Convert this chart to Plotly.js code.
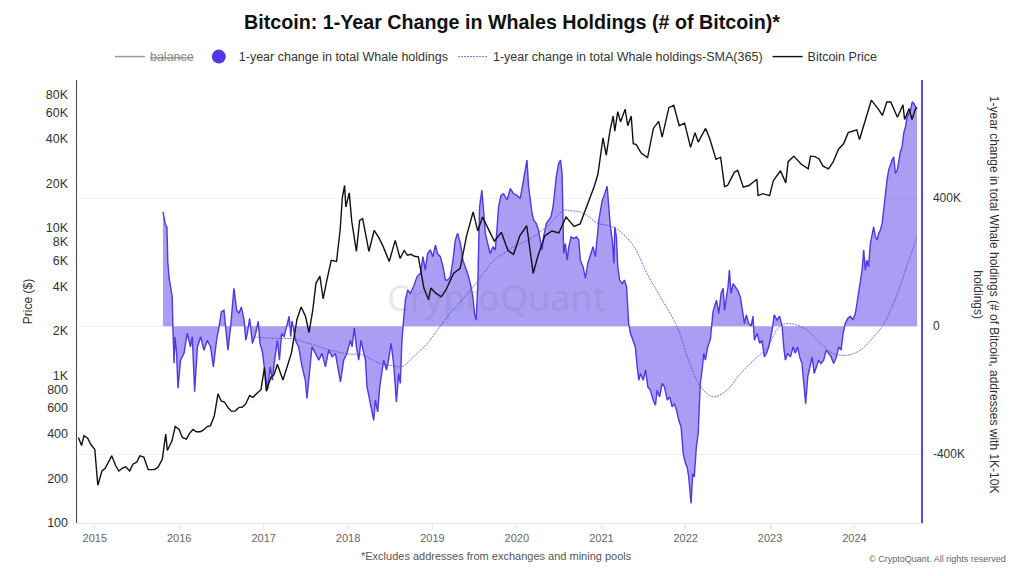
<!DOCTYPE html>
<html>
<head>
<meta charset="utf-8">
<script src="https://cdn.plot.ly/plotly-3.0.1.min.js"></script>
<style>
html,body{margin:0;padding:0;background:#fff;}
#chart{width:1024px;height:576px;}
</style>
</head>
<body>
<div id="chart"></div>
<script>
// ---------- DATA ----------
// Bitcoin price (USD)
const priceDates = [
  '2014-10-22','2014-11-05','2014-11-15','2014-12-01','2014-12-15',
  '2015-01-01','2015-01-14','2015-02-01','2015-02-15','2015-03-01','2015-03-15','2015-04-01','2015-04-15','2015-05-01','2015-05-15','2015-06-01','2015-06-15','2015-07-01','2015-07-15','2015-08-01','2015-08-20','2015-09-01','2015-09-15','2015-10-01','2015-10-20','2015-11-04','2015-11-11','2015-12-01','2015-12-15',
  '2016-01-01','2016-01-15','2016-02-01','2016-02-15','2016-03-01','2016-03-15','2016-04-01','2016-04-15','2016-05-01','2016-05-15','2016-06-01','2016-06-17','2016-07-01','2016-07-15','2016-08-01','2016-08-15','2016-09-01','2016-09-15','2016-10-01','2016-10-15','2016-11-01','2016-11-15','2016-12-01','2016-12-20',
  '2017-01-04','2017-01-12','2017-02-01','2017-02-15','2017-03-01','2017-03-25','2017-04-15','2017-05-01','2017-05-25','2017-06-12','2017-07-01','2017-07-16','2017-08-01','2017-08-15','2017-09-01','2017-09-15','2017-10-01','2017-10-20','2017-11-12','2017-11-28','2017-12-07','2017-12-17','2017-12-22',
  '2018-01-06','2018-01-17','2018-02-06','2018-02-20','2018-03-05','2018-04-01','2018-04-24','2018-05-15','2018-06-01','2018-06-28','2018-07-24','2018-08-14','2018-09-01','2018-09-15','2018-10-01','2018-10-15','2018-11-01','2018-11-25','2018-12-15','2018-12-25',
  '2019-01-15','2019-02-08','2019-03-01','2019-04-02','2019-05-01','2019-05-28','2019-06-26','2019-07-16','2019-08-06','2019-09-01','2019-09-26','2019-10-26','2019-11-24','2019-12-18',
  '2020-01-14','2020-02-13','2020-03-12','2020-04-01','2020-05-01','2020-06-01','2020-07-01','2020-08-01','2020-09-05','2020-10-01','2020-10-21','2020-11-15','2020-12-01','2020-12-17',
  '2021-01-08','2021-01-22','2021-02-08','2021-02-21','2021-02-28','2021-03-13','2021-03-25','2021-04-14','2021-04-25','2021-05-10','2021-05-19','2021-06-01','2021-06-22','2021-07-20','2021-08-14','2021-09-06','2021-09-21','2021-10-20','2021-11-10','2021-12-04','2021-12-27',
  '2022-01-22','2022-02-10','2022-02-24','2022-03-28','2022-04-15','2022-05-12','2022-06-01','2022-06-18','2022-07-01','2022-07-30','2022-08-14','2022-09-07','2022-10-01','2022-11-05','2022-11-10','2022-12-01','2022-12-30',
  '2023-01-15','2023-02-15','2023-03-10','2023-03-20','2023-04-14','2023-05-15','2023-06-15','2023-06-25','2023-07-14','2023-08-01','2023-08-18','2023-09-11','2023-10-01','2023-10-24','2023-11-15','2023-12-05',
  '2024-01-11','2024-01-23','2024-02-15','2024-03-05','2024-03-14','2024-04-15','2024-05-01','2024-05-20','2024-06-06','2024-07-05','2024-07-29','2024-08-05','2024-08-25','2024-09-06','2024-09-20','2024-09-27'
];
const priceValues = [
  380,335,390,375,340,
  315,180,225,235,260,285,245,225,235,240,225,250,258,285,280,230,230,230,238,270,400,310,360,450,
  430,380,370,405,430,415,415,425,450,455,530,750,670,660,600,570,575,605,610,640,730,710,750,800,
  1130,780,970,1010,1190,930,1180,1420,2400,2900,2500,1950,2750,4200,4700,3300,4400,6000,5900,9800,16000,19300,13800,
  17200,11000,6900,11200,11500,6900,9600,8500,7500,5900,8200,6200,7000,6500,6600,6400,6350,3900,3250,3900,
  3600,3400,3800,4900,5300,8700,12800,9500,11800,9700,8100,9300,7000,6600,
  8800,10300,4900,6400,8800,9500,9200,11800,10200,10600,12800,16000,19000,23000,
  40500,31000,46000,57000,45000,61000,52000,63500,49000,57000,37000,36500,32000,29800,47000,52500,41000,65000,67500,49000,51000,
  35000,44000,38000,47000,40000,29000,30000,19000,19300,23700,24500,18800,19300,21300,16500,17000,16500,
  20800,24300,20100,28000,30500,27000,25000,30500,30300,29200,26100,25000,27900,34000,37000,44000,
  46000,39500,52000,67000,73000,63000,57500,71000,71000,56000,68000,54000,64000,54000,63000,65500
];

// 1-year change in total Whale holdings (thousand BTC), time as decimal year
const whaleYears = [
  2015.809,2015.840,2015.855,2015.868,2015.880,2015.899,2015.919,2015.928,2015.940,2015.951,2015.970,2015.987,
  2016.018,2016.058,2016.097,2016.136,2016.156,2016.184,2016.216,2016.255,2016.295,2016.334,2016.373,2016.405,2016.444,2016.473,2016.500,2016.532,2016.551,2016.579,2016.610,2016.630,2016.650,2016.681,2016.710,2016.737,2016.769,2016.788,2016.808,2016.835,2016.867,2016.906,2016.935,2016.958,2016.986,
  2017.013,2017.045,2017.077,2017.104,2017.131,2017.164,2017.187,2017.211,2017.243,2017.274,2017.302,2017.321,2017.335,2017.350,2017.377,2017.416,2017.456,2017.495,2017.515,2017.546,2017.575,2017.614,2017.653,2017.693,2017.732,2017.771,2017.812,2017.851,2017.890,2017.910,2017.949,2017.989,
  2018.028,2018.049,2018.076,2018.100,2018.127,2018.155,2018.179,2018.206,2018.226,2018.257,2018.286,2018.305,2018.325,2018.352,2018.376,2018.404,2018.423,2018.455,2018.482,2018.511,2018.541,2018.573,2018.601,2018.621,2018.641,2018.660,2018.680,2018.707,2018.739,2018.778,2018.819,2018.858,2018.890,2018.917,2018.944,2018.976,
  2019.008,2019.036,2019.063,2019.095,2019.127,2019.154,2019.181,2019.213,2019.245,2019.273,2019.300,2019.332,2019.364,2019.391,2019.418,2019.450,2019.482,2019.501,2019.518,2019.537,2019.549,2019.560,2019.589,2019.608,2019.628,2019.655,2019.687,2019.719,2019.746,2019.767,2019.786,2019.814,2019.845,2019.885,2019.924,2019.963,
  2020.004,2020.043,2020.063,2020.082,2020.102,2020.122,2020.141,2020.161,2020.181,2020.200,2020.232,2020.259,2020.280,2020.300,2020.319,2020.351,2020.378,2020.406,2020.430,2020.449,2020.469,2020.496,2020.517,2020.537,2020.548,2020.556,2020.576,2020.596,2020.615,2020.643,2020.674,2020.706,2020.733,2020.754,2020.786,2020.813,2020.840,2020.872,2020.904,2020.931,2020.951,2020.970,2020.991,
  2021.011,2021.030,2021.050,2021.070,2021.089,2021.109,2021.129,2021.148,2021.160,2021.180,2021.196,2021.219,2021.248,2021.275,2021.299,2021.326,2021.346,2021.378,2021.405,2021.425,2021.444,2021.464,2021.496,2021.524,2021.551,2021.583,2021.615,2021.642,2021.662,2021.693,2021.722,2021.749,2021.781,2021.812,2021.840,2021.867,2021.891,2021.918,2021.947,2021.970,2021.998,
  2022.018,2022.037,2022.065,2022.084,2022.104,2022.128,2022.148,2022.164,2022.175,2022.196,2022.214,2022.235,2022.262,2022.294,2022.326,2022.365,2022.392,2022.421,2022.444,2022.463,2022.483,2022.504,2022.519,2022.539,2022.563,2022.590,2022.617,2022.649,2022.669,2022.697,2022.720,2022.748,2022.776,2022.800,2022.815,2022.847,2022.878,2022.906,2022.934,2022.957,2022.985,
  2023.005,2023.025,2023.052,2023.084,2023.115,2023.143,2023.162,2023.182,2023.210,2023.242,2023.274,2023.301,2023.328,2023.352,2023.380,2023.399,2023.423,2023.447,2023.470,2023.499,2023.526,2023.550,2023.577,2023.605,2023.636,2023.668,2023.695,2023.724,2023.755,2023.787,2023.814,2023.842,2023.866,2023.893,2023.921,2023.953,2023.984,
  2024.012,2024.032,2024.051,2024.071,2024.091,2024.110,2024.130,2024.150,2024.169,2024.190,2024.210,2024.229,2024.249,2024.269,2024.288,2024.308,2024.328,2024.347,2024.367,2024.387,2024.406,2024.427,2024.447,2024.466,2024.486,2024.506,2024.525,2024.545,2024.565,2024.584,2024.604,2024.624,2024.643,2024.664,2024.684,2024.703,2024.723,2024.743
];
const whaleK = [
  357,316,310,200,154,123,92,-2,-116,-33,-85,-194,
  -106,-85,-22,-65,-33,-205,-65,-33,-75,-44,-65,-127,-44,0,45,50,0,-75,0,50,118,50,40,60,20,-44,-23,24,-54,-23,15,-54,-80,
  -137,-200,-127,-169,-106,-44,-106,-23,-33,0,31,-33,16,0,-44,-65,-127,-169,-226,-137,-65,-85,-106,-85,-127,-75,-96,-85,-137,-174,-106,-85,
  -44,-65,-6,-65,-106,-44,-75,-106,-190,-231,-262,-294,-231,-268,-190,-148,-106,-137,-106,-54,-117,-237,-148,-179,-44,19,81,113,102,123,154,165,217,175,227,238,
  217,253,227,217,185,144,144,154,206,269,290,258,206,185,165,133,92,40,19,123,290,373,425,352,290,258,227,248,238,300,373,409,414,394,430,414,
  409,399,435,456,487,519,435,394,352,331,321,300,269,238,279,321,331,342,373,425,467,508,519,477,373,227,258,206,248,279,274,279,269,206,185,149,196,227,248,217,279,331,362,
  394,404,425,437,373,310,269,196,310,279,185,144,133,144,123,8,-23,-44,-65,-127,-169,-148,-169,-137,-190,-200,-231,-247,-200,-221,-179,-190,-231,-221,-252,-242,-262,-294,-315,-398,-429,
  -440,-471,-554,-461,-471,-377,-335,-262,-179,-137,-85,-106,-65,-40,45,81,40,102,118,50,92,123,175,102,133,123,112,92,50,8,35,8,0,31,-44,-23,-54,-44,-96,-85,-65,
  -44,-12,35,19,31,0,-65,-106,-85,-96,-65,-85,-65,-96,-117,-169,-242,-158,-127,-96,-148,-127,-106,-117,-106,-75,-85,-96,-117,-96,-65,-75,-23,8,24,31,20,
  40,71,102,144,175,238,175,206,185,258,290,310,279,269,290,300,321,373,414,456,487,508,519,529,477,487,519,545,560,602,623,654,664,675,701,696,685,680
];

// SMA(365) of the 1-year change (thousand BTC)
const smaYears = [
  2016.85,2017.10,2017.35,2017.55,2017.71,2017.90,2018.03,2018.15,2018.38,2018.55,2018.64,2018.80,2018.94,
  2019.08,2019.21,2019.35,2019.49,2019.61,2019.73,2019.85,2019.96,2020.08,2020.20,2020.30,2020.40,2020.48,
  2020.56,2020.65,2020.75,2020.85,2020.95,2021.07,2021.15,2021.23,2021.39,2021.54,2021.70,2021.90,2022.02,
  2022.18,2022.33,2022.49,2022.65,2022.81,2022.97,2023.08,2023.16,2023.28,2023.44,2023.60,2023.75,2023.91,
  2024.07,2024.23,2024.35,2024.51,2024.62,2024.74
];
const smaK = [
  -33,-38,-40,-55,-69,-82,-88,-88,-117,-124,-127,-90,-54,
  -5,40,82,123,165,206,228,248,262,279,300,321,345,
  362,360,357,342,322,315,308,295,248,165,92,-2,-96,
  -190,-221,-200,-148,-106,-65,-12,6,6,-12,-54,-85,-91,
  -75,-33,8,102,185,279
];

// Tick labels
const yearTickLabels = ['2015','2016','2017','2018','2019','2020','2021','2022','2023','2024'];
const priceTickVals = [100,200,400,600,800,1000,2000,4000,6000,8000,10000,20000,40000,60000,80000];
const priceTickText = ['100','200','400','600','800','1K','2K','4K','6K','8K','10K','20K','40K','60K','80K'];
const whaleTickVals = [-400000,0,400000];
const whaleTickText = ['-400K','0','400K'];

// ---------- HELPERS ----------
function yearToDate(y){
  const yr = Math.floor(y);
  const s = Date.UTC(yr,0,1), e = Date.UTC(yr+1,0,1);
  return new Date(s + (y-yr)*(e-s)).toISOString().slice(0,10);
}
const nW = Math.min(whaleYears.length, whaleK.length);
const whaleX = whaleYears.slice(0,nW).map(yearToDate);
const whaleY = whaleK.slice(0,nW).map(v => v*1000);
const nS = Math.min(smaYears.length, smaK.length);
const smaX = smaYears.slice(0,nS).map(yearToDate);
const smaY = smaK.slice(0,nS).map(v => v*1000);
const nP = Math.min(priceDates.length, priceValues.length);

const BLUE = '#5038e6';
const FONT = 'Liberation Sans, Arial, sans-serif';

const traces = [
  {x:[null], y:[null], name:'<span style="color:#8a8a8a"><s>balance</s></span>', mode:'lines',
   line:{color:'#9a9a9a', width:1.5}, yaxis:'y'},
  {x:whaleX, y:whaleY, mode:'lines', fill:'tozeroy', fillcolor:'rgba(84,62,232,0.5)',
   line:{color:BLUE, width:1.4}, showlegend:false, yaxis:'y', name:'1-year change in total Whale holdings'},
  {x:[null], y:[null], mode:'markers', marker:{size:14, color:BLUE, symbol:'circle'},
   name:'1-year change in total Whale holdings', yaxis:'y'},
  {x:smaX, y:smaY, mode:'lines', line:{color:'#5b45ea', width:0.8, dash:'2px,1px', shape:'spline'},
   name:'1-year change in total Whale holdings-SMA(365)', yaxis:'y'},
  {x:priceDates.slice(0,nP), y:priceValues.slice(0,nP), mode:'lines', line:{color:'#111', width:1.4},
   name:'Bitcoin Price', yaxis:'y2'}
];

const layout = {
  width:1024, height:576,
  paper_bgcolor:'#fff', plot_bgcolor:'#fff',
  margin:{l:77, r:103, t:80, b:53},
  font:{family:FONT, color:'#333', size:12},
  title:{text:'<b>Bitcoin: 1-Year Change in Whales Holdings (# of Bitcoin)*</b>',
         x:0.5, xanchor:'center', y:0.962, yanchor:'middle',
         font:{size:19.7, color:'#111', family:FONT}},
  showlegend:true,
  legend:{orientation:'h', x:0.497, xanchor:'center', y:1.052, yanchor:'middle',
          font:{size:12.5, color:'#333', family:FONT}, itemwidth:30, traceorder:'normal',
          bgcolor:'rgba(0,0,0,0)'},
  xaxis:{type:'date', range:['2014-10-16','2024-10-15'],
         tickvals: yearTickLabels.map(y => y + '-01-01'), ticktext: yearTickLabels,
         tickfont:{size:11, color:'#666'}, showgrid:false, zeroline:false,
         showline:true, linecolor:'#e6e6e6', linewidth:1,
         ticks:'outside', ticklen:5, tickcolor:'#e6e6e6'},
  yaxis:{side:'right', range:[-615000, 769000],
         tickvals: whaleTickVals, ticktext: whaleTickText,
         tickfont:{size:12, color:'#333'}, showgrid:true, gridcolor:'#f2f2f2', gridwidth:1,
         zeroline:false, showline:true, linecolor:'#5b45ea', linewidth:1.5,
         ticks:'', ticklabelstandoff:8},
  yaxis2:{overlaying:'y', side:'left', type:'log', range:[2,5],
          tickvals: priceTickVals, ticktext: priceTickText,
          tickfont:{size:12.5, color:'#333'}, showgrid:false, zeroline:false,
          showline:true, linecolor:'#444', linewidth:1.5, ticks:'', ticklabelstandoff:5,
          title:{text:'Price ($)', font:{size:12, color:'#333'}, standoff:10}},
  annotations:[
    {text:'CryptoQuant', xref:'paper', yref:'paper', x:0.497, y:0.508, xanchor:'center', yanchor:'middle',
     showarrow:false, font:{size:36, color:'rgba(110,110,135,0.17)', family:'Noto Sans, sans-serif'}},
    {text:'1-year change in total Whale holdings (# of Bitcoin, addresses with 1K-10K<br>holdings)',
     xref:'paper', yref:'paper', x:1.077, y:0.515, xanchor:'center', yanchor:'middle',
     textangle:90, showarrow:false, align:'center', font:{size:12, color:'#333'}},
    {text:'*Excludes addresses from exchanges and mining pools', xref:'paper', yref:'paper',
     x:0.497, y:-0.0745, xanchor:'center', yanchor:'middle', showarrow:false,
     font:{size:11, color:'#555'}},
    {text:'© CryptoQuant. All rights reserved', xref:'paper', yref:'paper',
     x:1.103, y:-0.081, xanchor:'right', yanchor:'middle', showarrow:false,
     font:{size:9, color:'#666'}}
  ]
};

Plotly.newPlot('chart', traces, layout, {staticPlot:true, displayModeBar:false});
</script>
</body>
</html>
